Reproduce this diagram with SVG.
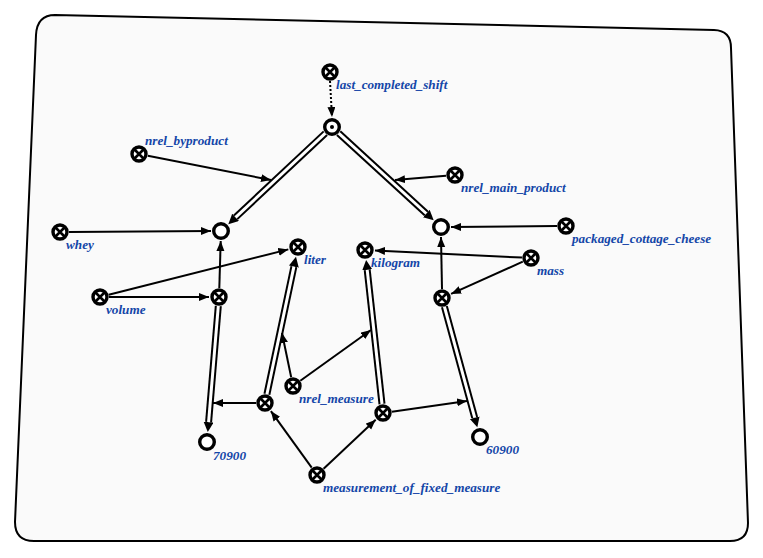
<svg xmlns="http://www.w3.org/2000/svg" width="763" height="558" viewBox="0 0 763 558">
<style>
.lbl{font-family:"Liberation Serif","Times New Roman",serif;font-style:italic;font-weight:bold;font-size:13.2px;fill:#1446a8}
.c{fill:#fff;stroke:#000;stroke-width:3.4}
.x{stroke:#000;stroke-width:2.6}
.e{fill:none;stroke:#000;stroke-width:2}
.dout{fill:none;stroke:#000;stroke-width:7}
.din{fill:none;stroke:#fff;stroke-width:3}
</style>
<defs>
<marker id="a" markerUnits="userSpaceOnUse" markerWidth="12" markerHeight="10" refX="10" refY="4" orient="auto"><path d="M0,0 L10,4 L0,8 Z" fill="#000"/></marker>
<marker id="ad" markerUnits="userSpaceOnUse" markerWidth="12" markerHeight="12" refX="0" refY="5" orient="auto"><path d="M0,0 L10,5 L0,10 Z" fill="#000"/></marker>
<g id="cn"><circle r="7" class="c"/><path d="M-4.5,-4.5 L4.5,4.5 M-4.5,4.5 L4.5,-4.5" class="x"/></g>
<g id="vn"><circle r="7.3" class="c"/></g>
</defs>
<path d="M55,15 L714,30 Q731,30.5 731,48 L748,523 Q748,541 730,541 L34,541 Q15,541 15,522 L36,35 Q37,15 55,15 Z" fill="#fafafa" stroke="#000" stroke-width="2"/>
<g id="edges">
<path class="e" d="M330,81 L332,117" stroke-dasharray="2,2" marker-end="url(#a)"/>
<path class="dout" d="M325.4,133.2 L235.6,217.3" marker-end="url(#ad)"/>
<path class="din" d="M325.4,133.2 L235.6,217.3"/>
<path class="dout" d="M338.6,133.1 L426.3,213.5" marker-end="url(#ad)"/>
<path class="din" d="M338.6,133.1 L426.3,213.5"/>
<path class="e" d="M147.8,155.7 L271,180" marker-end="url(#a)"/>
<path class="e" d="M446,175.7 L395,180" marker-end="url(#a)"/>
<path class="e" d="M69,232 L211,231" marker-end="url(#a)"/>
<path class="e" d="M108.7,294.8 L288.3,249.4" marker-end="url(#a)"/>
<path class="e" d="M109,297 L209,297" marker-end="url(#a)"/>
<path class="e" d="M219.3,288 L220.7,241" marker-end="url(#a)"/>
<path class="dout" d="M218.3,306 L208.6,422.1" marker-end="url(#ad)"/>
<path class="din" d="M218.3,306 L208.6,422.1"/>
<path class="dout" d="M266.9,394.2 L293.9,266.6" marker-end="url(#ad)"/>
<path class="din" d="M266.9,394.2 L293.9,266.6"/>
<path class="e" d="M291.2,377.2 L282,333" marker-end="url(#a)"/>
<path class="e" d="M300.3,380.8 L371,330" marker-end="url(#a)"/>
<path class="e" d="M256,403 L213,403" marker-end="url(#a)"/>
<path class="e" d="M311.7,467.7 L270.9,411.1" marker-end="url(#a)"/>
<path class="e" d="M323.6,468.8 L375.7,419.8" marker-end="url(#a)"/>
<path class="dout" d="M382,404 L367.2,269.9" marker-end="url(#ad)"/>
<path class="din" d="M382,404 L367.2,269.9"/>
<path class="e" d="M391.9,411.7 L467,401" marker-end="url(#a)"/>
<path class="e" d="M442,289 L441,237" marker-end="url(#a)"/>
<path class="dout" d="M444.4,306.7 L474.7,417.7" marker-end="url(#ad)"/>
<path class="din" d="M444.4,306.7 L474.7,417.7"/>
<path class="e" d="M522,257.6 L375,250.5" marker-end="url(#a)"/>
<path class="e" d="M522.8,261.7 L451.1,293.9" marker-end="url(#a)"/>
<path class="e" d="M557,226.1 L451,227" marker-end="url(#a)"/>
</g>
<g id="n_last_completed_shift"><use href="#cn" x="330" y="72"/><text class="lbl" x="336" y="89">last_completed_shift</text></g>
<g id="n_center"><use href="#vn" x="332" y="127"/><circle cx="332" cy="127" r="2" fill="#000"/></g>
<g id="n_nrel_byproduct"><use href="#cn" x="139" y="154"/><text class="lbl" x="145" y="145">nrel_byproduct</text></g>
<g id="n_nrel_main_product"><use href="#cn" x="455" y="175"/><text class="lbl" x="461" y="192">nrel_main_product</text></g>
<g id="n_whey"><use href="#cn" x="60" y="232"/><text class="lbl" x="66" y="249">whey</text></g>
<g id="n_left_var"><use href="#vn" x="221" y="231"/></g>
<g id="n_right_var"><use href="#vn" x="441" y="227"/></g>
<g id="n_packaged_cottage_cheese"><use href="#cn" x="566" y="226"/><text class="lbl" x="572" y="243">packaged_cottage_cheese</text></g>
<g id="n_liter"><use href="#cn" x="298" y="247"/><text class="lbl" x="304" y="264">liter</text></g>
<g id="n_kilogram"><use href="#cn" x="365" y="250"/><text class="lbl" x="371" y="267">kilogram</text></g>
<g id="n_mass"><use href="#cn" x="531" y="258"/><text class="lbl" x="537" y="275">mass</text></g>
<g id="n_volume"><use href="#cn" x="100" y="297"/><text class="lbl" x="106" y="314">volume</text></g>
<g id="n_left_mid"><use href="#cn" x="219" y="297"/></g>
<g id="n_right_mid"><use href="#cn" x="442" y="298"/></g>
<g id="n_nrel_measure"><use href="#cn" x="293" y="386"/><text class="lbl" x="299" y="403">nrel_measure</text></g>
<g id="n_left_low"><use href="#cn" x="265" y="403"/></g>
<g id="n_right_low"><use href="#cn" x="383" y="413"/></g>
<g id="n_70900"><use href="#vn" x="207" y="442"/><text class="lbl" x="213" y="460">70900</text></g>
<g id="n_60900"><use href="#vn" x="480" y="437"/><text class="lbl" x="486" y="454">60900</text></g>
<g id="n_measurement_of_fixed_measure"><use href="#cn" x="317" y="475"/><text class="lbl" x="323" y="492">measurement_of_fixed_measure</text></g>
</svg>
